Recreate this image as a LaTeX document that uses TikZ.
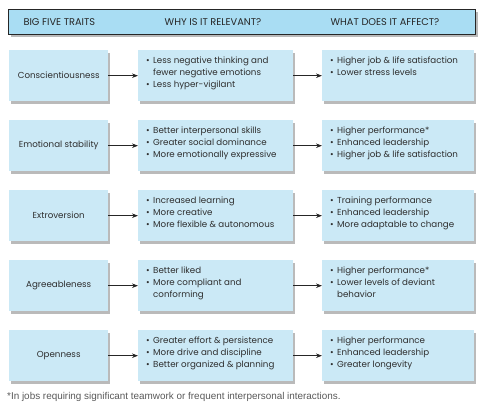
\documentclass[tikz,border=0pt]{standalone}
\usepackage{fontspec}
\setmainfont{Poppins}
\newfontfamily\footfont{Liberation Sans}
\usetikzlibrary{shadows,arrows.meta}
\definecolor{boxblue}{HTML}{CBE9F6}
\definecolor{headblue}{HTML}{A9DDF3}
\definecolor{txt}{HTML}{2E2E2E}
\newcommand{\bl}[1]{\par\noindent\hangindent=7pt\hbox to 7pt{\textbullet\hfil}#1}
\newcommand{\cellbox}[2]{\parbox[c][38pt][t]{#1}{\fontsize{8.7}{12}\selectfont\raggedright #2}}
\begin{document}
\begin{tikzpicture}[x=1pt,y=-1pt,
  every node/.style={text=txt},
  sh/.style={drop shadow={shadow xshift=2.2pt,shadow yshift=-2.4pt,fill=black!45,opacity=0.6}},
  traitbox/.style={sh,fill=boxblue,anchor=north west,minimum width=99pt,minimum height=51pt,inner sep=0pt,font=\fontsize{8.7}{10}\selectfont},
  infobox/.style={sh,fill=boxblue,anchor=north west,minimum width=#1,minimum height=51pt,inner xsep=8pt,inner ysep=6.5pt},
  arr/.style={-{Stealth[length=6pt,width=4.5pt]},line width=0.8pt,draw=black!85},
  headtxt/.style={font=\fontsize{9.8}{11}\selectfont,text=black!85}]
\useasboundingbox (0,0) rectangle (488,408);
% header
\node[sh,draw=black!85,line width=0.8pt,fill=headblue,anchor=north west,minimum width=467pt,minimum height=25pt,inner sep=0pt] (head) at (8,9) {};
\node[headtxt,anchor=west] (h1) at (20,22) {BIG FIVE TRAITS};
\node[headtxt] (h2) at (213,22) {WHY IS IT RELEVANT?};
\node[headtxt] (h3) at (385,22) {WHAT DOES IT AFFECT?};
% rows
\foreach \i/\trait/\mid/\res in {
  0/Conscientiousness/{\bl{Less negative thinking and fewer negative emotions}\bl{Less hyper-vigilant}}/{\bl{Higher job \& life satisfaction}\bl{Lower stress levels}},
  1/Emotional stability/{\bl{Better interpersonal skills}\bl{Greater social dominance}\bl{More emotionally expressive}}/{\bl{Higher performance*}\bl{Enhanced leadership}\bl{Higher job \& life satisfaction}},
  2/Extroversion/{\bl{Increased learning}\bl{More creative}\bl{More flexible \& autonomous}}/{\bl{Training performance}\bl{Enhanced leadership}\bl{More adaptable to change}},
  3/Agreeableness/{\bl{Better liked}\bl{More compliant and conforming}}/{\bl{Higher performance*}\bl{Lower levels of deviant behavior}},
  4/Openness/{\bl{Greater effort \& persistence}\bl{More drive and discipline}\bl{Better organized \& planning}}/{\bl{Higher performance}\bl{Enhanced leadership}\bl{Greater longevity}}}
{
  \node[traitbox] (t\i) at (9,{50+70*\i}) {\trait};
  \node[infobox=155pt] (m\i) at (138,{50+70*\i}) {\cellbox{139pt}{\mid}};
  \node[infobox=152pt] (r\i) at (322,{50+70*\i}) {\cellbox{136pt}{\res}};
  \draw[arr] (t\i.east) -- (m\i.west);
  \draw[arr] (m\i.east) -- (r\i.west);
}
\node[anchor=west,inner sep=0pt,font=\footfont\fontsize{9.9}{11}\selectfont,text=black!65] (foot) at (7,397) {*In jobs requiring significant teamwork or frequent interpersonal interactions.};
\end{tikzpicture}
\end{document}
